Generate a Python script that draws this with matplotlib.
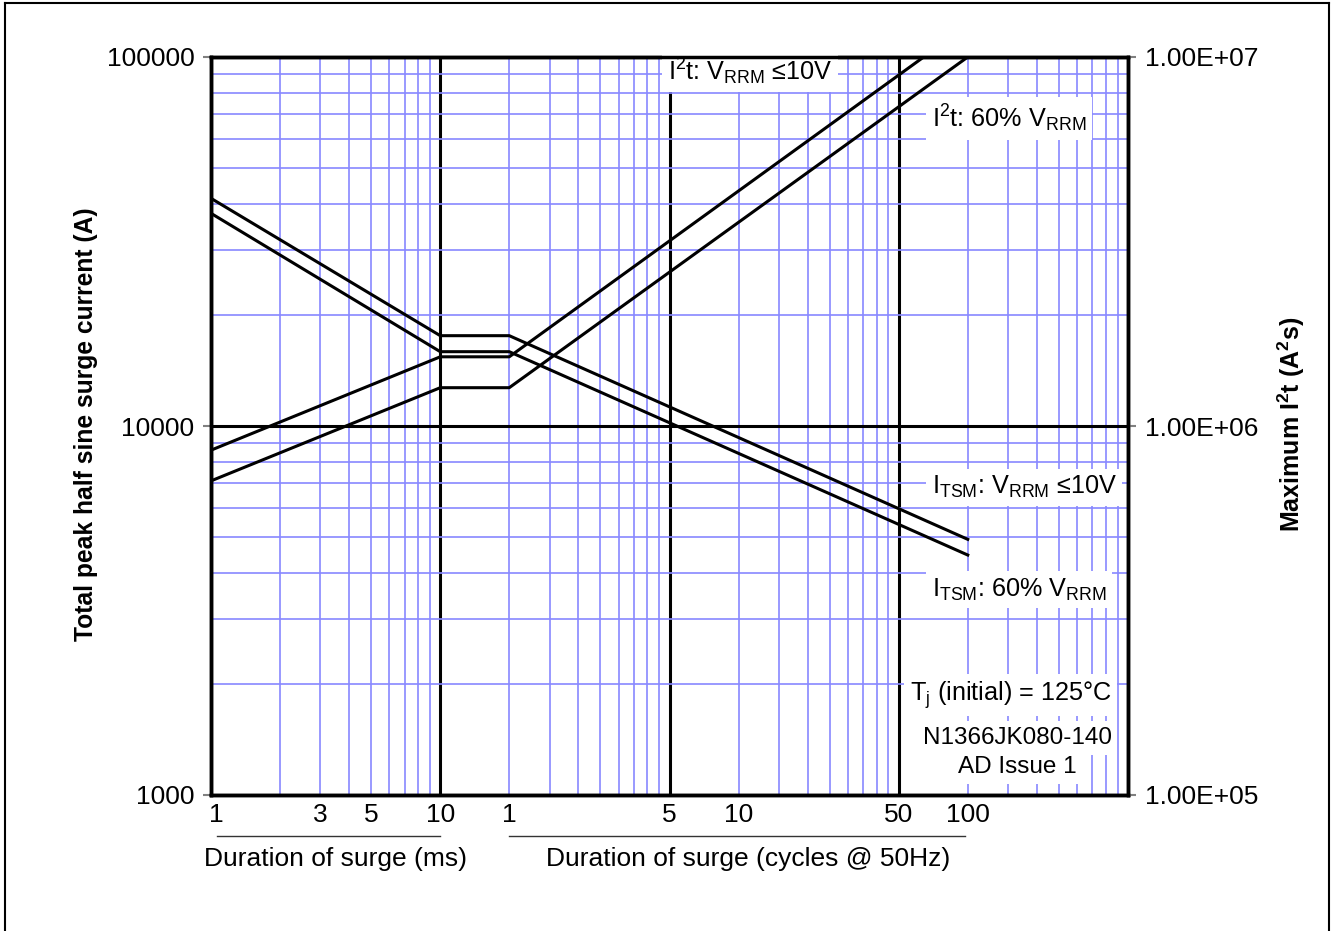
import numpy as np
import matplotlib
matplotlib.use('Agg')
import matplotlib.pyplot as plt
from matplotlib.lines import Line2D
from matplotlib.ticker import LogLocator, FixedLocator, NullFormatter

plt.rcParams['font.family'] = ['Liberation Sans', 'DejaVu Sans']
plt.rcParams['mathtext.default'] = 'regular'

# durations: first part in ms, second part in cycles @ 50Hz
dur_ms = [1, 10]
dur_cycles = [1, 100]
cycle_pos_ms = 20  # where the chart puts one cycle on its ms log scale

# peak surge current (A)
itsm_10v_ms = [41400, 17570]
itsm_10v_cycles = [17570, 4930]
itsm_60_ms = [37700, 15900]
itsm_60_cycles = [15900, 4470]

# I2t (A^2 s)
i2t_10v_ms = [8.6e5, 1.54e6]
i2t_10v_cycles = [1.54e6, 1.22e7]
i2t_60_ms = [7.1e5, 1.27e6]
i2t_60_cycles = [1.27e6, 1.0e7]

ms_ticks = [1, 3, 5, 10]
cycle_ticks = [1, 5, 10, 50, 100]
left_ticks = [1000, 10000, 100000]
right_ticks = [1e5, 1e6, 1e7]
right_labels = ['1.00E+05', '1.00E+06', '1.00E+07']

FS = 19
FA = 18.2
W, H = 1336, 931
fig = plt.figure(figsize=(W / 100, H / 100), dpi=100)
ax = fig.add_axes([211 / W, 1 - 795 / H, 917 / W, 738 / H])


def curve(ms_vals, cyc_vals):
    x = list(dur_ms) + [c * cycle_pos_ms for c in dur_cycles]
    y = list(ms_vals) + list(cyc_vals)
    return x, y


ax.set_xscale('log')
ax.set_yscale('log')
ax.set_xlim(1, 10000)
ax.set_ylim(1000, 100000)
ax.xaxis.set_minor_locator(LogLocator(base=10, subs=np.arange(2, 10), numticks=20))
ax.yaxis.set_minor_locator(LogLocator(base=10, subs=np.arange(2, 10), numticks=20))
ax.yaxis.set_major_locator(FixedLocator(left_ticks))
ax.set_yticklabels([str(v) for v in left_ticks])
ax.yaxis.set_minor_formatter(NullFormatter())
ax.xaxis.set_minor_formatter(NullFormatter())
ax.set_axisbelow(True)
ax.grid(which='minor', color='#8888ff', lw=1.2)
ax.grid(which='major', color='black', lw=2.2)
ax.tick_params(axis='x', which='both', length=0, labelbottom=False)
ax.tick_params(axis='y', which='minor', length=0)
ax.tick_params(axis='y', which='major', length=6, width=1.5, color='#808080',
               labelsize=FS, pad=6)
for s in ax.spines.values():
    s.set_linewidth(2.5)

x, y = curve(itsm_10v_ms, itsm_10v_cycles)
ax.plot(x, y, color='black', lw=2.2, zorder=4)
x, y = curve(itsm_60_ms, itsm_60_cycles)
ax.plot(x, y, color='black', lw=2.2, zorder=4)

ax2 = ax.twinx()
ax2.set_yscale('log')
ax2.set_ylim(1e5, 1e7)
ax2.yaxis.set_major_locator(FixedLocator(right_ticks))
ax2.set_yticklabels(right_labels)
ax2.yaxis.set_minor_locator(FixedLocator([]))
ax2.tick_params(axis='y', which='major', length=6, width=1.5, color='#808080',
                labelsize=FS, pad=6)
for s in ax2.spines.values():
    s.set_linewidth(2.5)
x, y = curve(i2t_10v_ms, i2t_10v_cycles)
ax2.plot(x, y, color='black', lw=2.2, zorder=4)
x, y = curve(i2t_60_ms, i2t_60_cycles)
ax2.plot(x, y, color='black', lw=2.2, zorder=4)

# x tick labels, two scales
tr = ax.get_xaxis_transform()
for v in ms_ticks:
    ax.text(v * (1.05 if v == 1 else 1), -0.027, str(v), transform=tr, ha='center',
            va='center', fontsize=FS)
for v in cycle_ticks:
    ax.text(v * cycle_pos_ms, -0.027, str(v), transform=tr, ha='center', va='center',
            fontsize=FS)
ax.plot([1.06, 10], [-0.056, -0.056], transform=tr, color='#333333', lw=1, clip_on=False)
ax.plot([cycle_pos_ms, 97 * cycle_pos_ms], [-0.056, -0.056], transform=tr,
        color='#333333', lw=1, clip_on=False)
fig.text(335 / W, 1 - 859 / H, 'Duration of surge (ms)', ha='center', va='center',
         fontsize=FS)
fig.text(748 / W, 1 - 859 / H, 'Duration of surge (cycles @ 50Hz)', ha='center',
         va='center', fontsize=FS)

fig.text(86 / W, 1 - 424 / H, 'Total peak half sine surge current (A)', rotation=90,
         ha='center', va='center', fontsize=17.7, fontweight='bold')
fig.text(1291 / W, 1 - 424 / H, r'Maximum I$^{2}$t (A$^{2}$s)', rotation=90,
         ha='center', va='center', fontsize=18, fontweight='bold')

box = dict(facecolor='white', edgecolor='none', pad=4)
ax.text(0.498, 0.981, r'I$^{2}$t: V$_{RRM}$ ≤10V', transform=ax.transAxes, ha='left',
        va='center', fontsize=FA, bbox=box, zorder=3)
ax.text(0.786, 0.917, r'I$^{2}$t: 60% V$_{RRM}$', transform=ax.transAxes, ha='left',
        va='center', fontsize=FA, bbox=box, zorder=3)
ax.text(0.786, 0.417, r'I$_{TSM}$: V$_{RRM}$ ≤10V', transform=ax.transAxes, ha='left',
        va='center', fontsize=FA, bbox=box, zorder=3)
ax.text(0.786, 0.278, r'I$_{TSM}$: 60% V$_{RRM}$', transform=ax.transAxes, ha='left',
        va='center', fontsize=FA, bbox=box, zorder=3)
ax.text(0.762, 0.1355, r'T$_{j}$ (initial) = 125°C', transform=ax.transAxes, ha='left',
        va='center', fontsize=FA, bbox=box, zorder=3)
ax.text(0.879, 0.0772, 'N1366JK080-140', transform=ax.transAxes, ha='center',
        va='center', fontsize=17.5, bbox=box, zorder=3)
ax.text(0.879, 0.0379, 'AD Issue 1', transform=ax.transAxes, ha='center',
        va='center', fontsize=17.5, bbox=box, zorder=3)

# page frame
fig.add_artist(Line2D([5 / W, 5 / W], [0, 1 - 3 / H], transform=fig.transFigure,
                      color='black', lw=1.5))
fig.add_artist(Line2D([5 / W, 1329 / W], [1 - 3 / H, 1 - 3 / H], transform=fig.transFigure,
                      color='black', lw=1.5))
fig.add_artist(Line2D([1329 / W, 1329 / W], [0, 1 - 3 / H], transform=fig.transFigure,
                      color='black', lw=1.5))

fig.savefig('out.png', dpi=100)
